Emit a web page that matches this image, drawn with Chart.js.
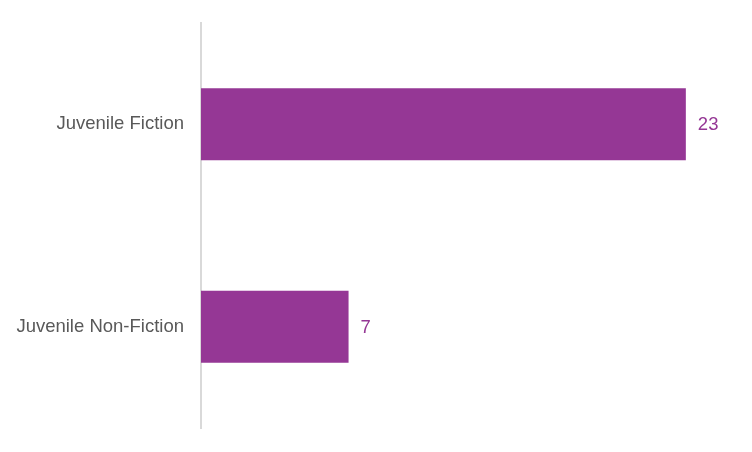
<!DOCTYPE html>
<html>
<head>
<meta charset="utf-8">
<script src="https://cdn.jsdelivr.net/npm/chart.js@4/dist/chart.umd.min.js"></script>
<style>
html,body{margin:0;padding:0;background:#fff;}
#wrap{width:752px;height:452px;}
</style>
</head>
<body>
<div id="wrap"><canvas id="c"></canvas></div>
<script>
const categories = ["Juvenile Fiction", "Juvenile Non-Fiction"];
const values = [23, 7];
const xMax = 25;

const valueLabels = {
  id: 'valueLabels',
  afterDatasetsDraw(chart) {
    const ctx = chart.ctx;
    const meta = chart.getDatasetMeta(0);
    ctx.save();
    ctx.font = '18.5px "Liberation Sans", Arial, sans-serif';
    ctx.fillStyle = '#953795';
    ctx.textAlign = 'left';
    ctx.textBaseline = 'middle';
    meta.data.forEach((bar, i) => {
      ctx.fillText(String(values[i]), bar.x + 12, bar.y + 1);
    });
    ctx.restore();
  }
};

new Chart(document.getElementById('c'), {
  type: 'bar',
  data: {
    labels: categories,
    datasets: [{
      data: values,
      backgroundColor: '#953795',
      borderWidth: 0,
      categoryPercentage: 1,
      barPercentage: 0.356
    }]
  },
  options: {
    indexAxis: 'y',
    responsive: true,
    maintainAspectRatio: false,
    animation: false,
    layout: { padding: { left: 0, right: 24, top: 23, bottom: 24 } },
    plugins: { legend: { display: false }, tooltip: { enabled: false } },
    scales: {
      x: {
        display: false,
        min: 0,
        max: xMax
      },
      y: {
        afterFit(scale) { scale.width = 201; scale.paddingTop = 0; scale.paddingBottom = 0; },
        grid: { display: false, drawTicks: false },
        border: { display: true, color: '#d9d9d9', width: 2 },
        ticks: {
          padding: 17,
          color: '#595959',
          font: { family: '"Liberation Sans", Arial, sans-serif', size: 18.5 }
        }
      }
    }
  },
  plugins: [valueLabels]
});
</script>
</body>
</html>
